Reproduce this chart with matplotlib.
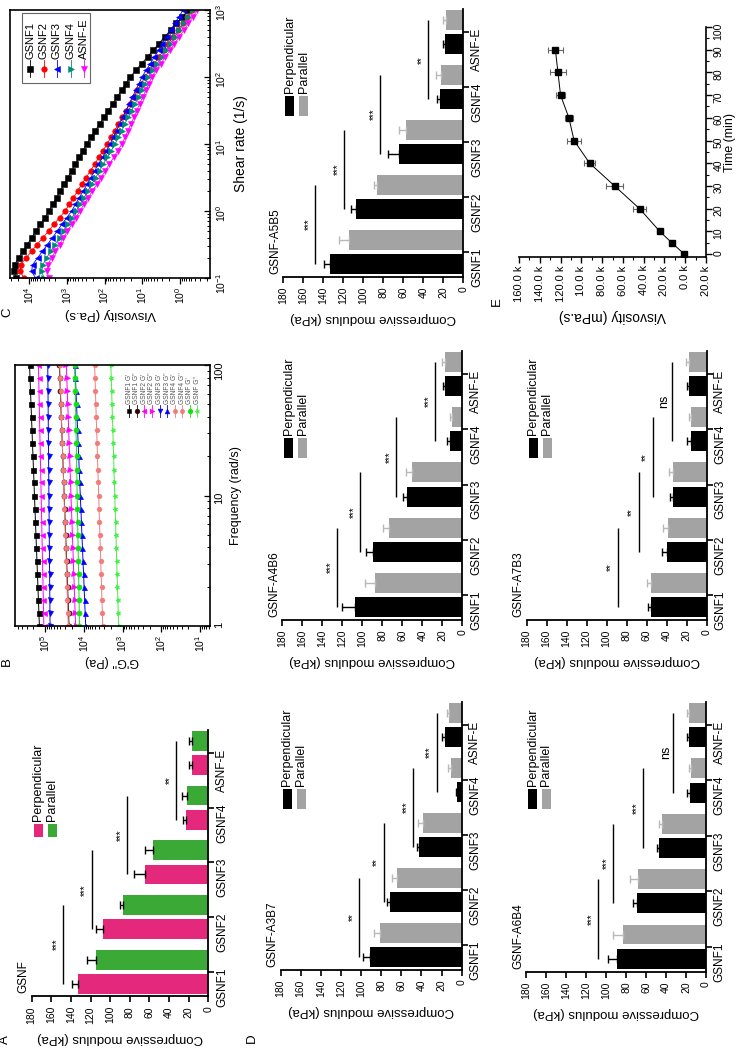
import numpy as np
import matplotlib
matplotlib.use("Agg")
import matplotlib.pyplot as plt
from matplotlib.patches import Rectangle
from matplotlib.lines import Line2D
from matplotlib.ticker import MultipleLocator, LogFormatterMathtext

plt.rcParams['font.family'] = ['Liberation Sans', 'DejaVu Sans']
plt.rcParams['mathtext.fontset'] = 'custom'
plt.rcParams['mathtext.rm'] = 'Liberation Sans'
plt.rcParams['mathtext.it'] = 'Liberation Sans:italic'
plt.rcParams['mathtext.bf'] = 'Liberation Sans:bold'
plt.rcParams['axes.unicode_minus'] = False

# ---------------------------------------------------------------- data
categories = ['GSNF1', 'GSNF2', 'GSNF3', 'GSNF4', 'ASNF-E']
modulus_ticks = [0, 20, 40, 60, 80, 100, 120, 140, 160, 180]

# A : GSNF
gsnf_perp = [133, 107, 64.5, 23, 17]
gsnf_perp_err = [6, 7, 11, 3, 2.5]
gsnf_para = [114, 86.5, 56.5, 21.5, 17]
gsnf_para_err = [10, 3.5, 8, 5.5, 2.5]
gsnf_sig = [148, 119, 83, 33]
gsnf_sig_txt = ['***', '***', '***', '**']

# D : GSNF-A5B5
a5b5_perp = [133, 107, 64, 23, 18]
a5b5_perp_err = [6, 5, 11, 3, 2]
a5b5_para = [114, 86, 57, 22, 17]
a5b5_para_err = [10, 3, 7, 5, 3]
a5b5_sig = [148, 119, 83, 35]
a5b5_sig_txt = ['***', '***', '***', '**']

# D : GSNF-A4B6
a4b6_perp = [107, 89, 55, 12, 17]
a4b6_perp_err = [13, 7, 4, 3, 2]
a4b6_para = [87, 73, 50, 10, 17]
a4b6_para_err = [10, 6, 6, 2, 3]
a4b6_sig = [125, 102, 66, 27]
a4b6_sig_txt = ['***', '***', '***', '***']

# D : GSNF-A3B7
a3b7_perp = [91, 71, 42, 5, 17]
a3b7_perp_err = [7.5, 3, 2.5, 1, 3]
a3b7_para = [81, 64, 38, 10.5, 12.5]
a3b7_para_err = [6.5, 5, 5, 3.5, 2.5]
a3b7_sig = [102, 77.5, 48, 25]
a3b7_sig_txt = ['**', '**', '***', '***']

# D : GSNF-A7B3
a7b3_perp = [55.7, 40, 34, 16, 17.3]
a7b3_perp_err = [3.3, 5, 2.7, 4, 2.7]
a7b3_para = [55.7, 39, 34, 15.7, 17.3]
a7b3_para_err = [4.3, 5, 3.7, 2, 3.4]
a7b3_sig = [89, 68, 54, 35]
a7b3_sig_txt = ['**', '**', '**', 'ns']

# D : GSNF-A6B4
a6b4_perp = [89, 69, 46.7, 16, 16.7]
a6b4_perp_err = [8.7, 3.7, 2.6, 2.7, 2.6]
a6b4_para = [83, 68, 44.3, 15, 16.7]
a6b4_para_err = [10, 8, 2.4, 2.3, 2.6]
a6b4_sig = [108, 92.7, 62.7, 32.7]
a6b4_sig_txt = ['***', '***', '***', 'ns']

# B : frequency sweep
frequency = [1, 1.26, 1.58, 2, 2.51, 3.16, 3.98, 5.01, 6.31, 7.94, 10,
             12.6, 15.8, 20, 25.1, 31.6, 39.8, 50.1, 63.1, 79.4, 100]
b_gsnf1_gp = [139700, 143900, 148200, 152600, 157100, 161800, 166600, 171600, 176700, 182000, 187400,
              193000, 198700, 204700, 210800, 217000, 223500, 230200, 237000, 244100, 251300]
b_gsnf1_gpp = [24000, 24700, 25400, 26200, 26900, 27700, 28500, 29400, 30200, 31100, 32000,
               33000, 33900, 34900, 35900, 37000, 38100, 39200, 40300, 41500, 42700]
b_gsnf2_gp = [107200, 109000, 110700, 112500, 114400, 116200, 118100, 120000, 122000, 124000, 126000,
              128000, 130100, 132200, 134400, 136600, 138800, 141000, 143300, 145600, 148000]
b_gsnf2_gpp = [16200, 16700, 17100, 17600, 18100, 18600, 19100, 19700, 20200, 20800, 21400,
               22000, 22600, 23200, 23900, 24500, 25200, 25900, 26700, 27400, 28200]
b_gsnf3_gp = [74100, 74600, 75200, 75700, 76200, 76700, 77200, 77800, 78300, 78900, 79400,
              80000, 80500, 81100, 81600, 82200, 82800, 83300, 83900, 84500, 85100]
b_gsnf3_gpp = [8910, 9210, 9510, 9820, 10100, 10500, 10800, 11200, 11500, 11900, 12300,
               12700, 13100, 13500, 14000, 14400, 14900, 15400, 15900, 16400, 17000]
b_gsnf4_gp = [25100, 25800, 26400, 27100, 27800, 28500, 29200, 30000, 30800, 31600, 32400,
              33200, 34100, 34900, 35800, 36700, 37700, 38600, 39600, 40700, 41700]
b_gsnf4_gpp = [3240, 3310, 3400, 3480, 3560, 3650, 3740, 3830, 3930, 4020, 4120,
               4220, 4330, 4430, 4540, 4650, 4770, 4880, 5000, 5120, 5250]
b_gsnf_gp = [12900, 13100, 13200, 13400, 13600, 13800, 14000, 14200, 14400, 14600, 14800,
             15000, 15200, 15400, 15600, 15900, 16100, 16300, 16500, 16800, 17000]
b_gsnf_gpp = [1259, 1288, 1318, 1349, 1380, 1413, 1445, 1479, 1514, 1549, 1585,
              1622, 1660, 1698, 1738, 1778, 1820, 1862, 1905, 1950, 1995]
b_labels = ["GSNF1 G'", "GSNF1 G''", "GSNF2 G'", "GSNF2 G''", "GSNF3 G'", "GSNF3 G''",
            "GSNF4 G'", "GSNF4 G''", "GSNF G'", "GSNF G''"]

# C : flow curves
shear_rate = [0.1, 0.126, 0.158, 0.2, 0.251, 0.316, 0.398, 0.501, 0.631, 0.794,
              1.0, 1.26, 1.58, 2.0, 2.51, 3.16, 3.98, 5.01, 6.31, 7.94,
              10, 12.6, 15.8, 20, 25.1, 31.6, 39.8, 50.1, 63.1, 79.4,
              100, 126, 158, 200, 251, 316, 398, 501, 631, 794, 1000]
visc_gsnf1 = [21400, 25100, 24000, 18600, 14500, 11000, 8510, 6460, 5010, 3800,
              2950, 2340, 1860, 1480, 1180, 933, 741, 589, 468, 372,
              295, 229, 174, 135, 102, 79.4, 60.3, 46.8, 35.5, 27.5,
              20.9, 14.8, 10.5, 7.24, 5.13, 3.63, 2.57, 1.78, 1.26, 0.871, 0.617]
visc_gsnf2 = [13500, 17000, 16600, 11800, 8510, 6030, 4270, 3020, 2190, 1550,
              1100, 851, 661, 513, 398, 309, 234, 182, 141, 110,
              85.1, 67.6, 53.7, 42.7, 33.9, 26.9, 21.4, 17.0, 13.5, 10.7,
              8.51, 6.46, 4.79, 3.63, 2.69, 2.04, 1.51, 1.15, 0.851, 0.646, 0.479]
visc_gsnf3 = [6610, 8510, 7940, 5890, 4370, 3240, 2400, 1780, 1350, 1000,
              741, 589, 468, 363, 288, 229, 182, 145, 112, 89.1,
              70.8, 58.9, 47.9, 39.8, 32.4, 26.9, 22.4, 18.2, 15.1, 12.3,
              10.2, 7.94, 6.17, 4.79, 3.72, 2.95, 2.29, 1.78, 1.38, 1.07, 0.832]
visc_gsnf4 = [3980, 4570, 4270, 3390, 2630, 2040, 1550, 1200, 933, 724,
              562, 447, 347, 275, 219, 170, 135, 107, 85.1, 66.1,
              52.5, 42.7, 34.7, 28.8, 23.4, 19.1, 15.5, 12.6, 10.5, 8.51,
              6.92, 5.25, 4.07, 3.09, 2.34, 1.82, 1.38, 1.05, 0.813, 0.617, 0.468]
visc_asnfe = [2950, 3310, 3160, 2510, 2000, 1550, 1230, 955, 741, 575,
              447, 347, 269, 209, 158, 123, 95.5, 74.1, 57.5, 44.7,
              34.7, 28.8, 24.0, 20.0, 16.6, 14.1, 11.7, 9.77, 8.13, 6.76,
              5.62, 4.27, 3.24, 2.45, 1.86, 1.41, 1.05, 0.794, 0.603, 0.457, 0.347]
c_labels = ['GSNF1', 'GSNF2', 'GSNF3', 'GSNF4', 'ASNF-E']

# E : viscosity vs time
time_min = [0, 5, 10, 20, 30, 40, 50, 60, 70, 80, 90]
visc_time = [1000, 13000, 24500, 44000, 68000, 92000, 107000, 112000, 120000, 122500, 125000]
visc_time_err = [600, 1500, 3000, 6000, 8000, 5000, 7000, 4000, 4000, 7500, 7000]
e_value_ticks = [-20000, 0, 20000, 40000, 60000, 80000, 100000, 120000, 140000, 160000]
e_value_ticklabels = ['20.0 k', '0.0 k', '20.0 k', '40.0 k', '60.0 k', '80.0 k',
                      '10.0 k', '120.0 k', '140.0 k', '160.0 k']
e_time_ticks = [0, 10, 20, 30, 40, 50, 60, 70, 80, 90, 100]

# ---------------------------------------------------------------- layout helpers
W, H = 740, 1050
fig = plt.figure(figsize=(W / 100, H / 100), dpi=100)


def fx(x):
    return x / W


def fy(y):
    return 1.0 - y / H


def add_ax(x0, x1, ytop, ybot):
    return fig.add_axes([x0 / W, 1 - ybot / H, (x1 - x0) / W, (ybot - ytop) / H])


def ftext(x, y, s, **kw):
    kw.setdefault('rotation', 90)
    kw.setdefault('ha', 'center')
    kw.setdefault('va', 'center')
    fig.text(fx(x), fy(y), s, **kw)


def fig_rect(x0, x1, ytop, ybot, **kw):
    fig.add_artist(Rectangle((fx(x0), fy(ybot)), (x1 - x0) / W, (ybot - ytop) / H,
                             transform=fig.transFigure, **kw))


def fig_line(xs, ys, **kw):
    fig.add_artist(Line2D([fx(v) for v in xs], [fy(v) for v in ys],
                          transform=fig.transFigure, **kw))


PINK, GREEN = '#e4287c', '#3aa935'
BLACK, GRAY, GRAY_ERR = '#000000', '#a3a3a3', '#b9b9b9'


def bar_panel(x0, x1, y_first, y_last, title, perp, perp_err, para, para_err, sig, sig_txt,
              c_perp=BLACK, c_para=GRAY, ec_perp=BLACK, ec_para=GRAY_ERR,
              leg_top=64, leg_text=61):
    s = (y_first - y_last) / 4.0
    ybot = y_first + 0.45 * s
    ytop = y_last - 0.42 * s
    ax = add_ax(x0, x1, ytop, ybot)
    pos = np.arange(len(categories))
    off, w = 0.22, 0.36
    n = len(categories)
    ax.barh(pos - off, perp, height=w, color=c_perp, zorder=2)
    ax.barh(pos + off, para, height=w, color=c_para, zorder=2)
    ax.errorbar(perp, pos - off, xerr=[np.zeros(n), perp_err], fmt='none', ecolor=ec_perp,
                elinewidth=1.0, capsize=2.6, capthick=1.0, zorder=3)
    ax.errorbar(para, pos + off, xerr=[np.zeros(n), para_err], fmt='none', ecolor=ec_para,
                elinewidth=1.0, capsize=2.6, capthick=1.0, zorder=3)
    for i, (v, t) in enumerate(zip(sig, sig_txt)):
        ax.plot([v, v], [i - off, i + 1 + off], color='black', lw=1.0,
                solid_capstyle='butt', zorder=3)
        ax.annotate(t, xy=(v, i + 0.5), xytext=(-1.0, 0), textcoords='offset points',
                    rotation=90, ha='right', va='center',
                    fontsize=7 if '*' in t else 9)
    ax.set_xlim(180, 0)
    ax.set_ylim(-0.45, 4.42)
    for side in ['left', 'top']:
        ax.spines[side].set_visible(False)
    for side in ['right', 'bottom']:
        ax.spines[side].set_linewidth(1.3)
    ax.yaxis.tick_right()
    ax.set_yticks(pos)
    ax.set_yticklabels(categories)
    ax.set_xticks(modulus_ticks)
    ax.set_xticklabels([str(v) for v in modulus_ticks])
    ax.tick_params(axis='y', labelrotation=90, labelsize=8.5, length=4, width=1.2, pad=1.5)
    ax.tick_params(axis='x', labelrotation=90, labelsize=7.5, length=4, width=1.2, pad=3)
    ax.set_xlabel('Compressive modulus (kPa)', rotation=180, fontsize=9.5, labelpad=6)
    ax.patch.set_visible(False)
    # title
    ftext(x0 - 8, ybot - 3, title, va='bottom', fontsize=8.5)
    # legend
    for xc, col, lab in zip([x0 + 6.5, x0 + 20.5], [c_perp, c_para], ['Perpendicular', 'Parallel']):
        fig_rect(xc - 4.5, xc + 4.5, y_last + leg_top, y_last + 84, color=col, lw=0)
        ftext(xc, y_last + leg_text, lab, va='bottom', fontsize=9)
    return ax


# ---------------------------------------------------------------- bar panels
bar_panel(31.7, 208.3, 971.7, 753, 'GSNF', gsnf_perp, gsnf_perp_err, gsnf_para, gsnf_para_err,
          gsnf_sig, gsnf_sig_txt, c_perp=PINK, c_para=GREEN, ec_perp=BLACK, ec_para=BLACK,
          leg_top=71, leg_text=68)
bar_panel(283.3, 463.3, 252, 32.3, 'GSNF-A5B5', a5b5_perp, a5b5_perp_err, a5b5_para, a5b5_para_err,
          a5b5_sig, a5b5_sig_txt)
bar_panel(282.3, 462.3, 595, 374, 'GSNF-A4B6', a4b6_perp, a4b6_perp_err, a4b6_para, a4b6_para_err,
          a4b6_sig, a4b6_sig_txt)
bar_panel(280.5, 461.7, 945, 725, 'GSNF-A3B7', a3b7_perp, a3b7_perp_err, a3b7_para, a3b7_para_err,
          a3b7_sig, a3b7_sig_txt)
bar_panel(526.7, 706.7, 595, 374, 'GSNF-A7B3', a7b3_perp, a7b3_perp_err, a7b3_para, a7b3_para_err,
          a7b3_sig, a7b3_sig_txt)
bar_panel(526, 706, 946.7, 725, 'GSNF-A6B4', a6b4_perp, a6b4_perp_err, a6b4_para, a6b4_para_err,
          a6b4_sig, a6b4_sig_txt)

# ---------------------------------------------------------------- B
axB = add_ax(15, 210, 365, 626)
b_series = [b_gsnf1_gp, b_gsnf1_gpp, b_gsnf2_gp, b_gsnf2_gpp, b_gsnf3_gp, b_gsnf3_gpp,
            b_gsnf4_gp, b_gsnf4_gpp, b_gsnf_gp, b_gsnf_gpp]
b_colors = ['#000000', '#2b0606', '#ff00ff', '#ff00ff', '#0000ff', '#0000ff',
            '#f07c7c', '#f07c7c', '#11e011', '#44f044']
b_markers = ['s', 'o', '<', '>', 'v', '^', 'H', 'H', 'o', (5, 1, 90)]
for vals, col, mk in zip(b_series, b_colors, b_markers):
    axB.plot(vals, frequency, color=col, marker=mk, ms=3.6, lw=0.7, mec=col, mew=0.5)
axB.set_xscale('log')
axB.set_yscale('log')
axB.set_xlim(5.96e5, 5.52)
axB.set_ylim(1, 100)
axB.yaxis.tick_right()
axB.yaxis.set_label_position('right')
axB.set_yticks([1, 10, 100])
axB.set_yticklabels(['1', '10', '100'])
axB.xaxis.set_major_formatter(LogFormatterMathtext())
axB.tick_params(axis='y', which='both', direction='in', labelrotation=90, labelsize=8, pad=3)
axB.tick_params(axis='x', which='both', direction='out', labelrotation=90, labelsize=7.5, pad=2)
axB.tick_params(which='major', length=4, width=0.9)
axB.tick_params(which='minor', length=2, width=0.7)
for sp in axB.spines.values():
    sp.set_linewidth(1.2)
axB.set_xlabel("G'G'' (Pa)", rotation=180, fontsize=9, labelpad=2)
axB.set_ylabel('Frequency (rad/s)', rotation=90, fontsize=9, labelpad=4)
for i, (lab, col, mk) in enumerate(zip(b_labels, b_colors, b_markers)):
    xc = 129.3 + 7.55 * i
    fig_line([xc, xc], [405, 417], color=col, lw=0.6)
    fig_line([xc], [411], color=col, marker=mk, ms=3.4, mec=col, mew=0.4)
    ftext(xc, 404, lab, va='bottom', fontsize=4.8, color='#555555')

# ---------------------------------------------------------------- C
axC = add_ax(10, 210, 10, 278)
c_series = [visc_gsnf1, visc_gsnf2, visc_gsnf3, visc_gsnf4, visc_asnfe]
c_colors = ['#000000', '#ff0000', '#0000ff', '#008b7a', '#ff00ff']
c_markers = ['s', 'o', '<', '>', 'v']
for vals, col, mk in zip(c_series, c_colors, c_markers):
    axC.plot(vals, shear_rate, color=col, marker=mk, ms=4, lw=0.6, mec=col, mew=0.4)
axC.set_xscale('log')
axC.set_yscale('log')
axC.set_xlim(3.16e4, 0.162)
axC.set_ylim(0.1, 1000)
axC.yaxis.tick_right()
axC.yaxis.set_label_position('right')
axC.xaxis.set_major_formatter(LogFormatterMathtext())
axC.yaxis.set_major_formatter(LogFormatterMathtext())
axC.tick_params(axis='y', which='both', direction='in', labelrotation=90, labelsize=7.5, pad=3)
axC.tick_params(axis='x', which='both', direction='out', labelrotation=90, labelsize=7.5, pad=2)
axC.tick_params(which='major', length=4, width=0.9)
axC.tick_params(which='minor', length=2, width=0.7)
for sp in axC.spines.values():
    sp.set_linewidth(1.2)
axC.set_xlabel('Visvosity (Pa.s)', rotation=180, fontsize=9.5, labelpad=3)
axC.set_ylabel('Shear rate (1/s)', rotation=90, fontsize=10, labelpad=4)
fig_rect(22, 90, 13, 83, fill=False, ec='#666666', lw=0.8)
for i, (lab, col, mk) in enumerate(zip(c_labels, c_colors, c_markers)):
    xc = 30 + 13.5 * i
    fig_line([xc, xc], [60, 77], color=col, lw=0.6)
    fig_line([xc], [68.5], color=col, marker=mk, ms=4, mec=col, mew=0.4)
    ftext(xc, 59, lab, va='bottom', fontsize=8)

# ---------------------------------------------------------------- E
axE = add_ax(519, 706, 27, 257)
axE.errorbar(visc_time, time_min, xerr=visc_time_err, fmt='-s', color='black', ms=5,
             lw=0.7, ecolor='#666666', elinewidth=0.8, capsize=2.2, capthick=0.8)
axE.set_xlim(160000, -20000)
axE.set_ylim(-1.3, 100)
for side in ['left', 'top']:
    axE.spines[side].set_visible(False)
for side in ['right', 'bottom']:
    axE.spines[side].set_linewidth(1.2)
axE.yaxis.tick_right()
axE.yaxis.set_label_position('right')
axE.set_xticks(e_value_ticks)
axE.set_xticklabels(e_value_ticklabels)
axE.xaxis.set_minor_locator(MultipleLocator(10000))
axE.set_yticks(e_time_ticks)
axE.yaxis.set_minor_locator(MultipleLocator(5))
axE.tick_params(axis='x', which='both', labelrotation=90, labelsize=8, pad=2)
axE.tick_params(axis='y', which='both', labelrotation=90, labelsize=7.5, pad=1.5)
axE.tick_params(which='major', length=4, width=1.0)
axE.tick_params(which='minor', length=2, width=0.8)
axE.set_xlabel('Visvosity (mPa.s)', rotation=180, fontsize=10, labelpad=5)
axE.set_ylabel('Time (min)', rotation=90, fontsize=9, labelpad=0)
axE.patch.set_visible(False)

# ---------------------------------------------------------------- panel letters
ftext(5, 1040, 'A', fontsize=9.5)
ftext(252, 1038, 'D', fontsize=9.5)
ftext(7, 662, 'B', fontsize=9.5)
ftext(7, 312, 'C', fontsize=9.5)
ftext(497, 302, 'E', fontsize=9.5)

fig.savefig('out.png', dpi=100)
